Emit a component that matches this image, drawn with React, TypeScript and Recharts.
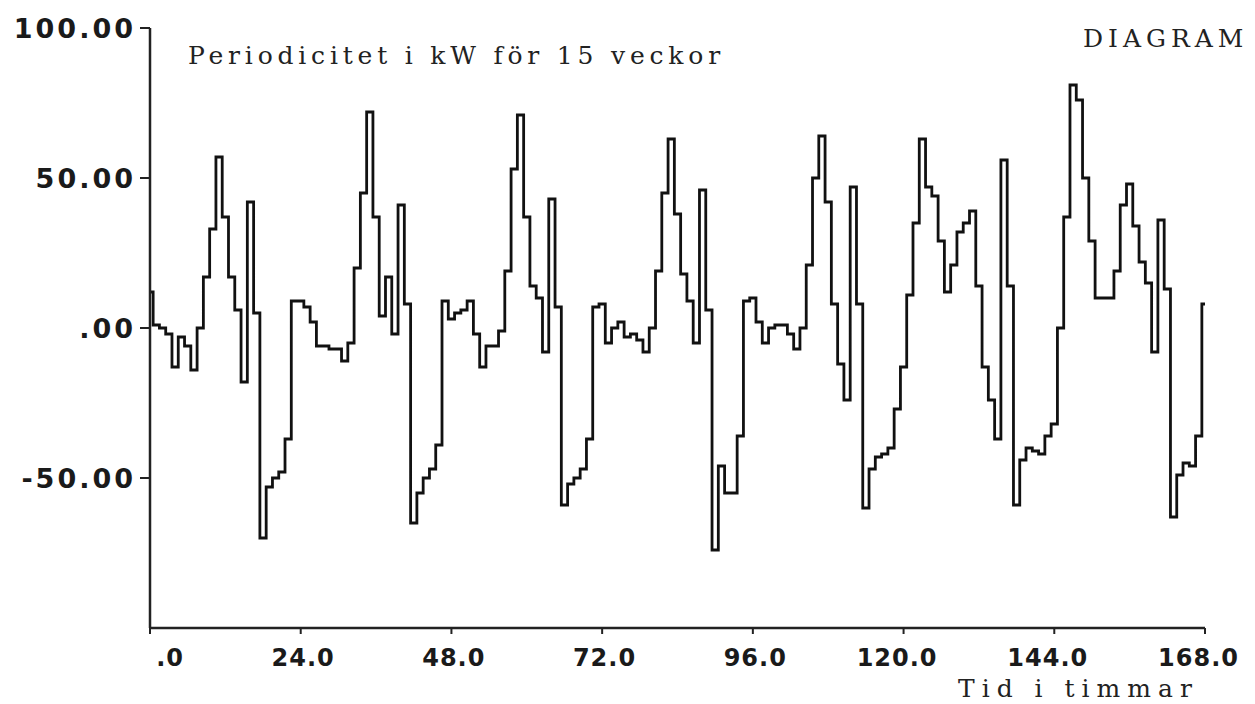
import React from 'react';
import { LineChart, Line, XAxis, YAxis } from 'recharts';

// Hourly periodic component (kW) over one week, hours 0..168
const kwValues: number[] = [
  12, 1, 0, -2, -13, -3, -6, -14, 0, 17, 33, 57, 37, 17, 6, -18, 42, 5, -70, -53, -50, -48, -37, 9,
  9, 7, 2, -6, -6, -7, -7, -11, -5, 20, 45, 72, 37, 4, 17, -2, 41, 8, -65, -55, -50, -47, -39, 9,
  3, 5, 6, 9, -2, -13, -6, -6, -1, 19, 53, 71, 37, 14, 10, -8, 43, 7, -59, -52, -50, -47, -37, 7,
  8, -5, 0, 2, -3, -2, -4, -8, 0, 19, 45, 63, 38, 18, 9, -5, 46, 6, -74, -46, -55, -55, -36, 9,
  10, 2, -5, 0, 1, 1, -2, -7, 0, 21, 50, 64, 42, 8, -12, -24, 47, 8, -60, -47, -43, -42, -40, -27,
  -13, 11, 35, 63, 47, 44, 29, 12, 21, 32, 35, 39, 14, -13, -24, -37, 56, 14, -59, -44, -40, -41, -42, -36,
  -32, 0, 37, 81, 76, 50, 29, 10, 10, 10, 19, 41, 48, 34, 22, 15, -8, 36, 13, -63, -49, -45, -46, -36,
  8,
];

const xTicks: number[] = [0, 24, 48, 72, 96, 120, 144, 168];
const xTickLabels: string[] = ['.0', '24.0', '48.0', '72.0', '96.0', '120.0', '144.0', '168.0'];
const yTicks: number[] = [100, 50, 0, -50];
const yTickLabels: string[] = ['100.00', '50.00', '.00', '-50.00'];

const data = kwValues.map((v, i) => ({ hour: i, kw: v }));

const tickFont = '"DejaVu Sans", sans-serif';
const serifFont = '"DejaVu Serif", serif';

const XTick = (props: any) => {
  const { x, y, payload } = props;
  const idx = xTicks.indexOf(payload.value);
  return (
    <text x={x + 34} y={y + 30} textAnchor="end" fontFamily={tickFont} fontWeight="bold" fontSize={24} letterSpacing={1} fill="#1a1a1a">
      {idx >= 0 ? xTickLabels[idx] : ''}
    </text>
  );
};

const YTick = (props: any) => {
  const { x, y, payload } = props;
  const idx = yTicks.indexOf(payload.value);
  return (
    <text x={x - 2} y={y + 10} textAnchor="end" fontFamily={tickFont} fontWeight="bold" fontSize={27} letterSpacing={3} fill="#1a1a1a">
      {idx >= 0 ? yTickLabels[idx] : ''}
    </text>
  );
};

export default function App() {
  return (
    <div style={{ position: 'absolute', left: 0, top: 0, width: 1255, height: 704, background: '#fff', overflow: 'hidden' }}>
      <LineChart width={1255} height={704} data={data} margin={{ top: 28, right: 50, bottom: 0, left: 0 }}>
        <XAxis
          dataKey="hour"
          type="number"
          domain={[0, 168]}
          ticks={xTicks}
          tick={<XTick />}
          tickSize={6}
          tickLine={{ stroke: '#222', strokeWidth: 2 }}
          axisLine={{ stroke: '#222', strokeWidth: 2.5 }}
          height={76}
          interval={0}
        />
        <YAxis
          type="number"
          domain={[-100, 100]}
          ticks={yTicks}
          tick={<YTick />}
          tickSize={10}
          tickLine={{ stroke: '#222', strokeWidth: 2 }}
          axisLine={{ stroke: '#222', strokeWidth: 2.5 }}
          width={150}
          interval={0}
        />
        <Line
          type="step"
          dataKey="kw"
          stroke="#111"
          strokeWidth={2.8}
          dot={false}
          isAnimationActive={false}
        />
      </LineChart>
      <div style={{ position: 'absolute', left: 188, top: 41, fontFamily: serifFont, fontSize: 25, letterSpacing: 4.8, color: '#222', whiteSpace: 'nowrap', lineHeight: '30px' }}>
        Periodicitet i kW för 15 veckor
      </div>
      <div style={{ position: 'absolute', left: 1083, top: 24, fontFamily: serifFont, fontSize: 25, letterSpacing: 5, color: '#222', whiteSpace: 'nowrap', lineHeight: '30px' }}>
        DIAGRAM
      </div>
      <div style={{ position: 'absolute', left: 958, top: 674, fontFamily: serifFont, fontSize: 25, letterSpacing: 7, color: '#222', whiteSpace: 'nowrap', lineHeight: '30px' }}>
        Tid i timmar
      </div>
    </div>
  );
}
